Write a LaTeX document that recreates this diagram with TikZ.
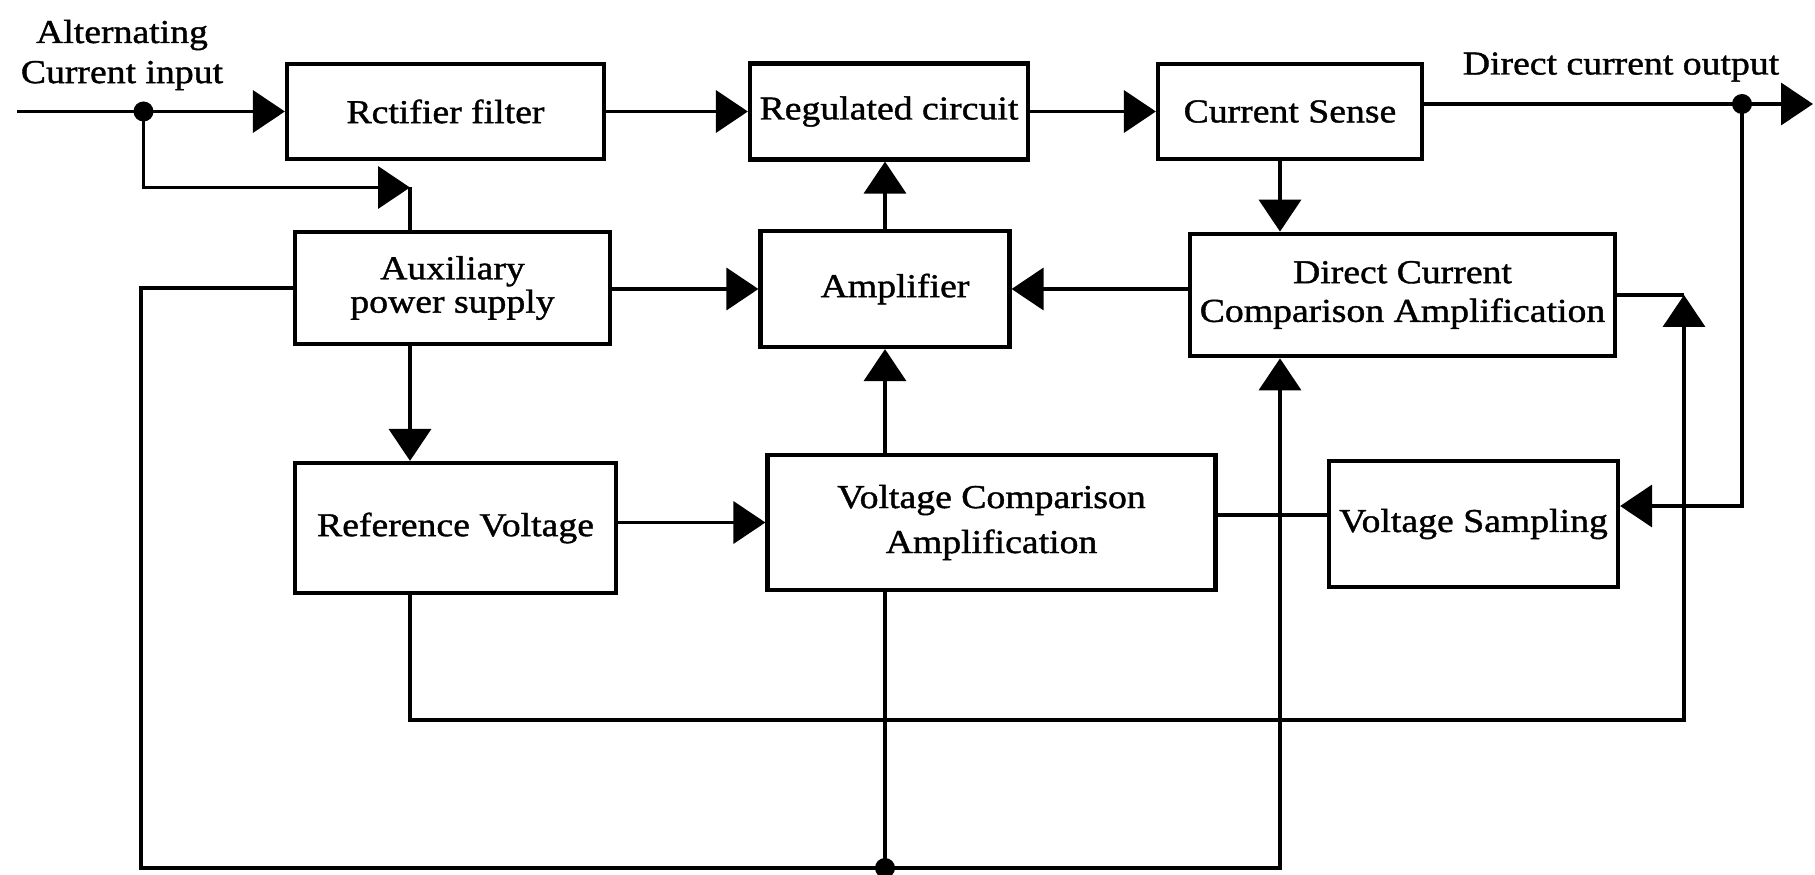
\documentclass[tikz,border=0pt]{standalone}
\usepackage{fontspec}
\setmainfont{Liberation Serif}[FakeStretch=1.13,FakeBold=1.2]
\usetikzlibrary{positioning,calc,arrows.meta}
\tikzset{
  wire/.style  = {line width=1.05pt},
  fwire/.style = {line width=1.05pt, -{Triangle[length=3.2mm,width=4.2mm]}},
  bdot/.style  = {circle, fill=black, inner sep=0pt, minimum size=2mm},
  blk/.style   = {draw, line width=1.2pt, fill=white, inner sep=2pt, align=center,
                  font=\fontsize{9.5}{11}\selectfont},
  lbl/.style   = {align=center, inner sep=1pt, font=\fontsize{9.5}{11.4}\selectfont},
}

\begin{document}
\begin{tikzpicture}
  \useasboundingbox (0,0) rectangle (18.15,8.74);
  % blocks
  \node[blk, minimum width=3.17cm, minimum height=0.95cm] (rect) at (4.455,7.625) {Rctifier filter};
  \node[blk, minimum width=2.78cm, minimum height=0.96cm] (reg) at (8.89,7.625) {Regulated circuit};
  \node[blk, minimum width=2.64cm, minimum height=0.95cm] (sense) at (12.90,7.625) {Current Sense};
  \node[blk, minimum width=3.15cm, minimum height=1.125cm, font=\fontsize{9.5}{9.5}\selectfont] (aux) at (4.525,5.86) {Auxiliary\\power supply};
  \node[blk, minimum width=2.49cm, minimum height=1.16cm] (amp) at (8.85,5.85) {\hspace{0.2cm}Amplifier};
  \node[blk, minimum width=4.25cm, minimum height=1.225cm] (dccomp) at (14.025,5.79) {Direct Current\\Comparison Amplification};
  \node[blk, minimum width=3.21cm, minimum height=1.30cm] (ref) at (4.555,3.46) {Reference Voltage};
  \node[blk, minimum width=4.48cm, minimum height=1.35cm, font=\fontsize{9.5}{12.8}\selectfont] (vca) at (9.915,3.515) {Voltage Comparison\\Amplification};
  \node[blk, minimum width=2.89cm, minimum height=1.26cm] (vsamp) at (14.735,3.50) {Voltage Sampling};
  % labels
  \node[lbl] (acin) at (1.22,8.19) {Alternating\\Current input};
  \node[lbl] (dcout) at (16.21,8.07) {Direct current output};
  % junctions
  \coordinate (ain) at (0.17,7.625);
  \node[bdot] (jin) at (1.435,7.625) {};
  \coordinate (jaux) at (4.1,6.865);
  \node[bdot] (jout) at (17.42,7.70) {};
  \coordinate (oout) at (18.13,7.70);
  \coordinate (xdc) at (12.80,0);
  \coordinate (yvs) at (0,3.59);
  \coordinate (lb) at (1.41,0.06);
  \node[bdot] (jbot) at (8.85,0.06) {};
  \coordinate (lr) at (16.84,1.54);
  % top row
  \draw[fwire] (ain) -- (rect.west);
  \draw[fwire] (jin.center) |- (jaux);
  \draw[wire] (aux.north -| jaux) -- (jaux);
  \draw[fwire] (rect.east) -- (reg.west);
  \draw[fwire] (reg.east) -- (sense.west);
  \draw[fwire] (sense.east |- jout) -- (oout);
  \draw[fwire] (jout.center) |- ($(vsamp.east)+(0,0.18)$);
  % middle row
  \draw[fwire] (xdc |- sense.south) -- (xdc |- dccomp.north);
  \draw[fwire] (dccomp.west |- amp.east) -- (amp.east);
  \draw[fwire] (aux.east |- amp.west) -- (amp.west);
  \draw[fwire] (amp.north) -- (reg.south -| amp.north);
  \draw[fwire] (aux.south -| jaux) -- (ref.north -| jaux);
  % bottom row
  \draw[fwire] (ref.east |- vca.west) -- (vca.west);
  \draw[fwire] (vca.north -| amp.north) -- (amp.south);
  \draw[wire] (vca.east |- yvs) -- (vsamp.west |- yvs);
  % feedback loops
  \draw[fwire] (aux.west) -| (lb) -| (xdc |- dccomp.south);
  \draw[wire] (vca.south -| jbot) -- (jbot.center);
  \draw[fwire] (ref.south -| jaux) |- (lr) -- (lr |- dccomp.east);
  \draw[wire] (dccomp.east) -- (lr |- dccomp.east);
\end{tikzpicture}
\end{document}
